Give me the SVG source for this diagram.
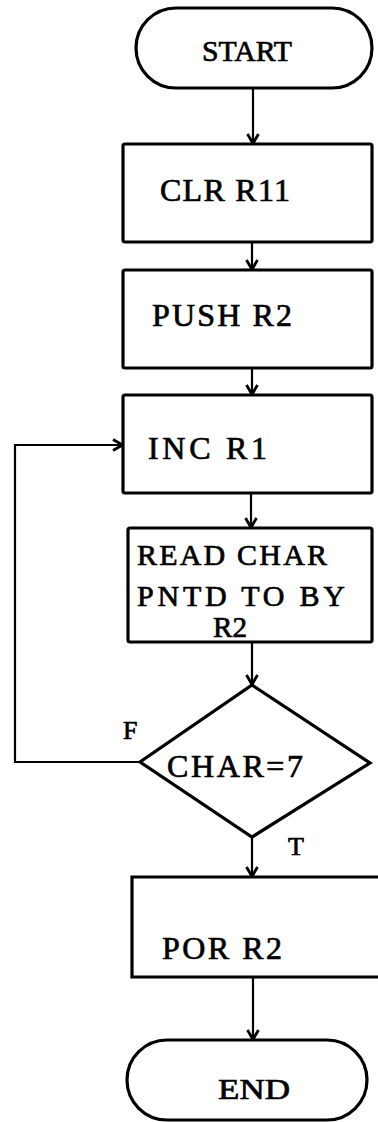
<svg xmlns="http://www.w3.org/2000/svg" width="378" height="1122" viewBox="0 0 378 1122">
<style>
.s{fill:#fff;stroke:#000;stroke-width:3.2}
.t{font-family:"Liberation Serif",serif;font-size:32px;fill:#000;stroke:#000;stroke-width:0.7}
.c{fill:none;stroke:#000;stroke-width:2.2}
</style>
<defs>
<marker id="a" viewBox="0 0 13 14" refX="12" refY="7" markerWidth="13" markerHeight="14" markerUnits="userSpaceOnUse" orient="auto">
<path d="M2,1.5 L11.5,7 L2,12.5" fill="none" stroke="#000" stroke-width="2.8"/>
</marker>
</defs>
<g id="connectors">
<line class="c" x1="253" y1="88" x2="253" y2="144" marker-end="url(#a)"/>
<line class="c" x1="252" y1="242" x2="252" y2="270" marker-end="url(#a)"/>
<line class="c" x1="252" y1="368" x2="252" y2="395" marker-end="url(#a)"/>
<line class="c" x1="251" y1="493" x2="251" y2="528" marker-end="url(#a)"/>
<line class="c" x1="252" y1="642" x2="252" y2="685" marker-end="url(#a)"/>
<line class="c" x1="252" y1="837" x2="252" y2="877" marker-end="url(#a)"/>
<line class="c" x1="253" y1="977" x2="253" y2="1040" marker-end="url(#a)"/>
<polyline class="c" points="140,762 15,762 15,445 123,445" stroke-width="3" marker-end="url(#a)"/>
</g>
<g id="start">
<rect class="s" x="136" y="8" width="236" height="80" rx="40" ry="40"/>
<text class="t" x="202" y="61" textLength="90" lengthAdjust="spacingAndGlyphs" style="font-size:30px">START</text>
</g>
<g id="clr">
<rect class="s" x="123" y="144" width="249" height="98" rx="2"/>
<text class="t" x="160" y="201" textLength="130" lengthAdjust="spacing">CLR R11</text>
</g>
<g id="push">
<rect class="s" x="123" y="270" width="249" height="98" rx="2"/>
<text class="t" x="152" y="326" textLength="140" lengthAdjust="spacing">PUSH R2</text>
</g>
<g id="inc">
<rect class="s" x="123" y="395" width="249" height="98" rx="2"/>
<text class="t" x="148" y="459" textLength="119" lengthAdjust="spacing">INC R1</text>
</g>
<g id="read">
<rect class="s" x="128" y="528" width="244" height="114" rx="2"/>
<text class="t" x="137" y="565" textLength="190" lengthAdjust="spacing" style="font-size:30px">READ CHAR</text>
<text class="t" x="137" y="606" textLength="208" lengthAdjust="spacing" style="font-size:30px">PNTD TO BY</text>
<text class="t" x="213" y="637" textLength="34" lengthAdjust="spacingAndGlyphs" style="font-size:30px">R2</text>
</g>
<g id="decision">
<polygon class="s" points="252,685 370,763 252,837 140,762"/>
<text class="t" x="167" y="777" textLength="136" lengthAdjust="spacing">CHAR=7</text>
<text class="t" x="123" y="739" style="font-size:26px">F</text>
<text class="t" x="288" y="855" style="font-size:26px">T</text>
</g>
<g id="por">
<path class="s" d="M380,877 L132,877 L132,977 L380,977"/>
<text class="t" x="162" y="959" textLength="120" lengthAdjust="spacing">POR R2</text>
</g>
<g id="end">
<rect class="s" x="127" y="1040" width="240" height="80" rx="40" ry="40"/>
<text class="t" x="218" y="1099" textLength="72" lengthAdjust="spacingAndGlyphs" style="font-size:30px">END</text>
</g>
</svg>
